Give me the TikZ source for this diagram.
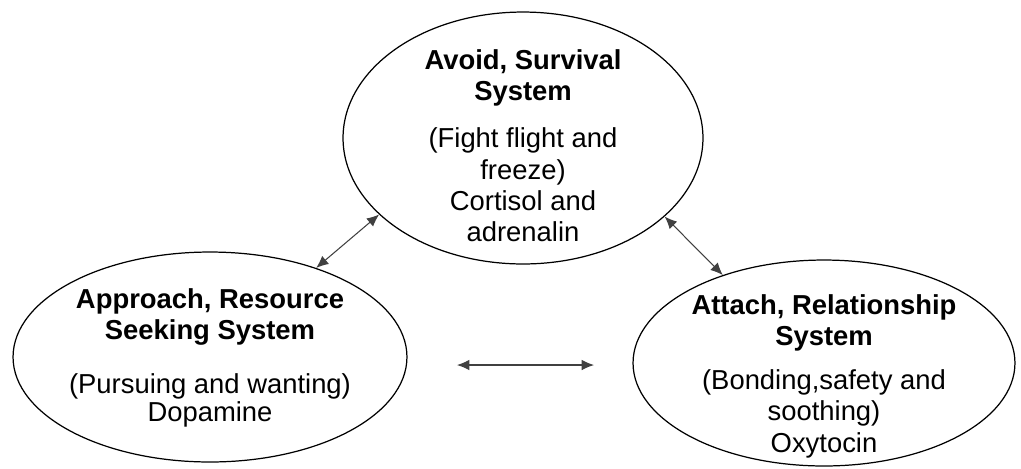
\documentclass[tikz,border=0pt]{standalone}
\usepackage{fontspec}
\setmainfont{Liberation Sans}
\usetikzlibrary{shapes.geometric, arrows.meta}

\begin{document}
\begin{tikzpicture}[x=0.02cm, y=-0.02cm,
        sys/.style={draw, ellipse, inner sep=0pt, line width=0.7pt},
        systext/.style={anchor=north, inner sep=0pt, align=center,
            font=\fontsize{15.6}{17.9}\selectfont},
        link/.style={{Latex[length=7pt,width=6pt]}-{Latex[length=7pt,width=6pt]}, line width=0.6pt, black!75}]
                \useasboundingbox (0,0) rectangle (1021,468);

                % The three systems
                \node[sys, minimum width=7.2cm, minimum height=5.04cm] (avoid) at (523,138) {};
                \node[sys, minimum width=7.88cm, minimum height=4.2cm] (approach) at (210,357) {};
                \node[sys, minimum width=7.64cm, minimum height=4.12cm] (attach) at (824,363) {};

                \node[systext] (avoidtext) at (523,49)
                    {\textbf{Avoid, Survival}\\ \textbf{System}\\[8.8pt]
                     (Fight flight and\\ freeze)\\ Cortisol and\\ adrenalin};
                \node[systext] (approachtext) at (210,288)
                    {\textbf{Approach, Resource}\\ \textbf{Seeking System}\\[13pt]
                     (Pursuing and wanting)\\[-2pt] Dopamine};
                \node[systext] (attachtext) at (824,294)
                    {\textbf{Attach, Relationship}\\ \textbf{System}\\[7pt]
                     (Bonding,safety and\\ soothing)\\ Oxytocin};

                % Connections between the systems
                \draw[link] (avoid.208) -- (approach.40);
                \draw[link] (avoid.331) -- (attach.139);

                \coordinate (midL) at (457,365);
                \coordinate (midR) at (594,365);
                \draw[link] (midL) -- (midR);
            \end{tikzpicture}
\end{document}
